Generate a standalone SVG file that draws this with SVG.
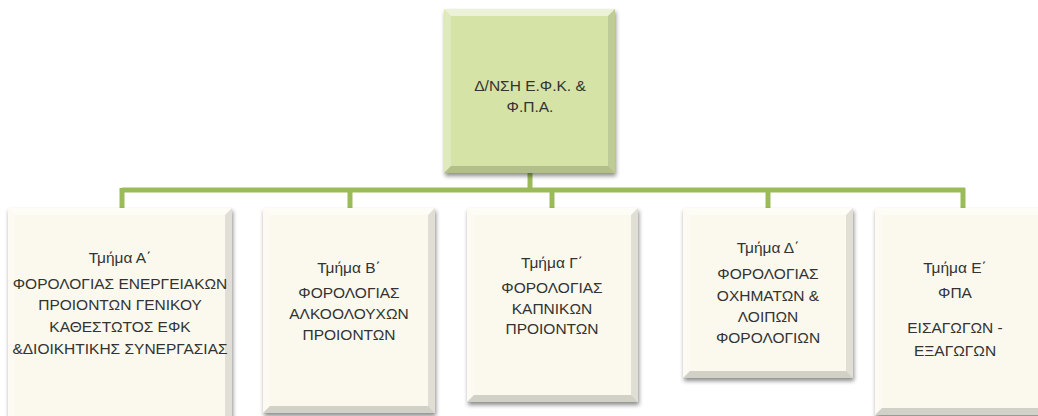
<svg xmlns="http://www.w3.org/2000/svg" width="1038" height="416" viewBox="0 0 1038 416">
<defs>
<filter id="sh" x="-10%" y="-10%" width="120%" height="120%">
<feDropShadow dx="1" dy="3" stdDeviation="2" flood-color="#000" flood-opacity="0.45"/>
</filter>
</defs>
<style>
.box{fill:#fbf9ee;filter:url(#sh)}
.top{fill:#d5e3a6;filter:url(#sh)}
.bt{fill:#fff;fill-opacity:0.55}
.bl{fill:#fff;fill-opacity:0.25}
.br{fill:#000;fill-opacity:0.1}
.bb{fill:#000;fill-opacity:0.16}
text{font-family:"Liberation Sans",Arial,sans-serif;font-size:15.5px;fill:#333;text-anchor:middle}
.conn{stroke:#9bbb59;stroke-width:5;fill:none}
</style>
<rect width="1038" height="416" fill="#fff"/>
<g id="connectors">
<path class="conn" d="M530,172V190M122,190H965M122,188V210M350,188V210M552,188V210M768,188V210M963,188V210"/>
</g>
<g id="root">
<rect class="top" x="444" y="9" width="171" height="164"/>
<polygon class="bt" points="444,9 615,9 608,16 451,16"/>
<polygon class="bl" points="444,9 451,16 451,166 444,173"/>
<polygon class="br" points="615,9 615,173 608,166 608,16"/>
<polygon class="bb" points="444,173 615,173 608,166 451,166"/>
<text x="530" y="91">Δ/ΝΣΗ Ε.Φ.Κ. &amp;</text>
<text x="530" y="112">Φ.Π.Α.</text>
</g>
<g id="tmimaA">
<rect class="box" x="8" y="208" width="224" height="215"/>
<polygon class="bt" points="8,208 232,208 225,215 15,215"/>
<polygon class="bl" points="8,208 15,215 15,423 8,423"/>
<polygon class="br" points="232,208 232,423 225,423 225,215"/>
<text x="120" y="263">Τμήμα Α΄</text>
<text x="120" y="289">ΦΟΡΟΛΟΓΙΑΣ ΕΝΕΡΓΕΙΑΚΩΝ</text>
<text x="120" y="310">ΠΡΟΙΟΝΤΩΝ ΓΕΝΙΚΟΥ</text>
<text x="120" y="332">ΚΑΘΕΣΤΩΤΟΣ ΕΦΚ</text>
<text x="120" y="354">&amp;ΔΙΟΙΚΗΤΙΚΗΣ ΣΥΝΕΡΓΑΣΙΑΣ</text>
</g>
<g id="tmimaB">
<rect class="box" x="263" y="208" width="172" height="205"/>
<polygon class="bt" points="263,208 435,208 428,215 270,215"/>
<polygon class="bl" points="263,208 270,215 270,406 263,413"/>
<polygon class="br" points="435,208 435,413 428,406 428,215"/>
<polygon class="bb" points="263,413 435,413 428,406 270,406"/>
<text x="349" y="273">Τμήμα Β΄</text>
<text x="349" y="298">ΦΟΡΟΛΟΓΙΑΣ</text>
<text x="349" y="319">ΑΛΚΟΟΛΟΥΧΩΝ</text>
<text x="349" y="340">ΠΡΟΙΟΝΤΩΝ</text>
</g>
<g id="tmimaG">
<rect class="box" x="467" y="208" width="171" height="194"/>
<polygon class="bt" points="467,208 638,208 631,215 474,215"/>
<polygon class="bl" points="467,208 474,215 474,395 467,402"/>
<polygon class="br" points="638,208 638,402 631,395 631,215"/>
<polygon class="bb" points="467,402 638,402 631,395 474,395"/>
<text x="552" y="268">Τμήμα Γ΄</text>
<text x="552" y="293">ΦΟΡΟΛΟΓΙΑΣ</text>
<text x="552" y="314">ΚΑΠΝΙΚΩΝ</text>
<text x="552" y="334">ΠΡΟΙΟΝΤΩΝ</text>
</g>
<g id="tmimaD">
<rect class="box" x="683" y="208" width="170" height="170"/>
<polygon class="bt" points="683,208 853,208 846,215 690,215"/>
<polygon class="bl" points="683,208 690,215 690,371 683,378"/>
<polygon class="br" points="853,208 853,378 846,371 846,215"/>
<polygon class="bb" points="683,378 853,378 846,371 690,371"/>
<text x="768" y="253">Τμήμα Δ΄</text>
<text x="768" y="279">ΦΟΡΟΛΟΓΙΑΣ</text>
<text x="768" y="301">ΟΧΗΜΑΤΩΝ &amp;</text>
<text x="768" y="322">ΛΟΙΠΩΝ</text>
<text x="768" y="343">ΦΟΡΟΛΟΓΙΩΝ</text>
</g>
<g id="tmimaE">
<rect class="box" x="875" y="208" width="172" height="207"/>
<polygon class="bt" points="875,208 1047,208 1040,215 882,215"/>
<polygon class="bl" points="875,208 882,215 882,408 875,415"/>
<polygon class="bb" points="875,415 1047,415 1040,408 882,408"/>
<text x="955" y="273">Τμήμα Ε΄</text>
<text x="955" y="298">ΦΠΑ</text>
<text x="955" y="333">ΕΙΣΑΓΩΓΩΝ -</text>
<text x="955" y="356">ΕΞΑΓΩΓΩΝ</text>
</g>
</svg>
